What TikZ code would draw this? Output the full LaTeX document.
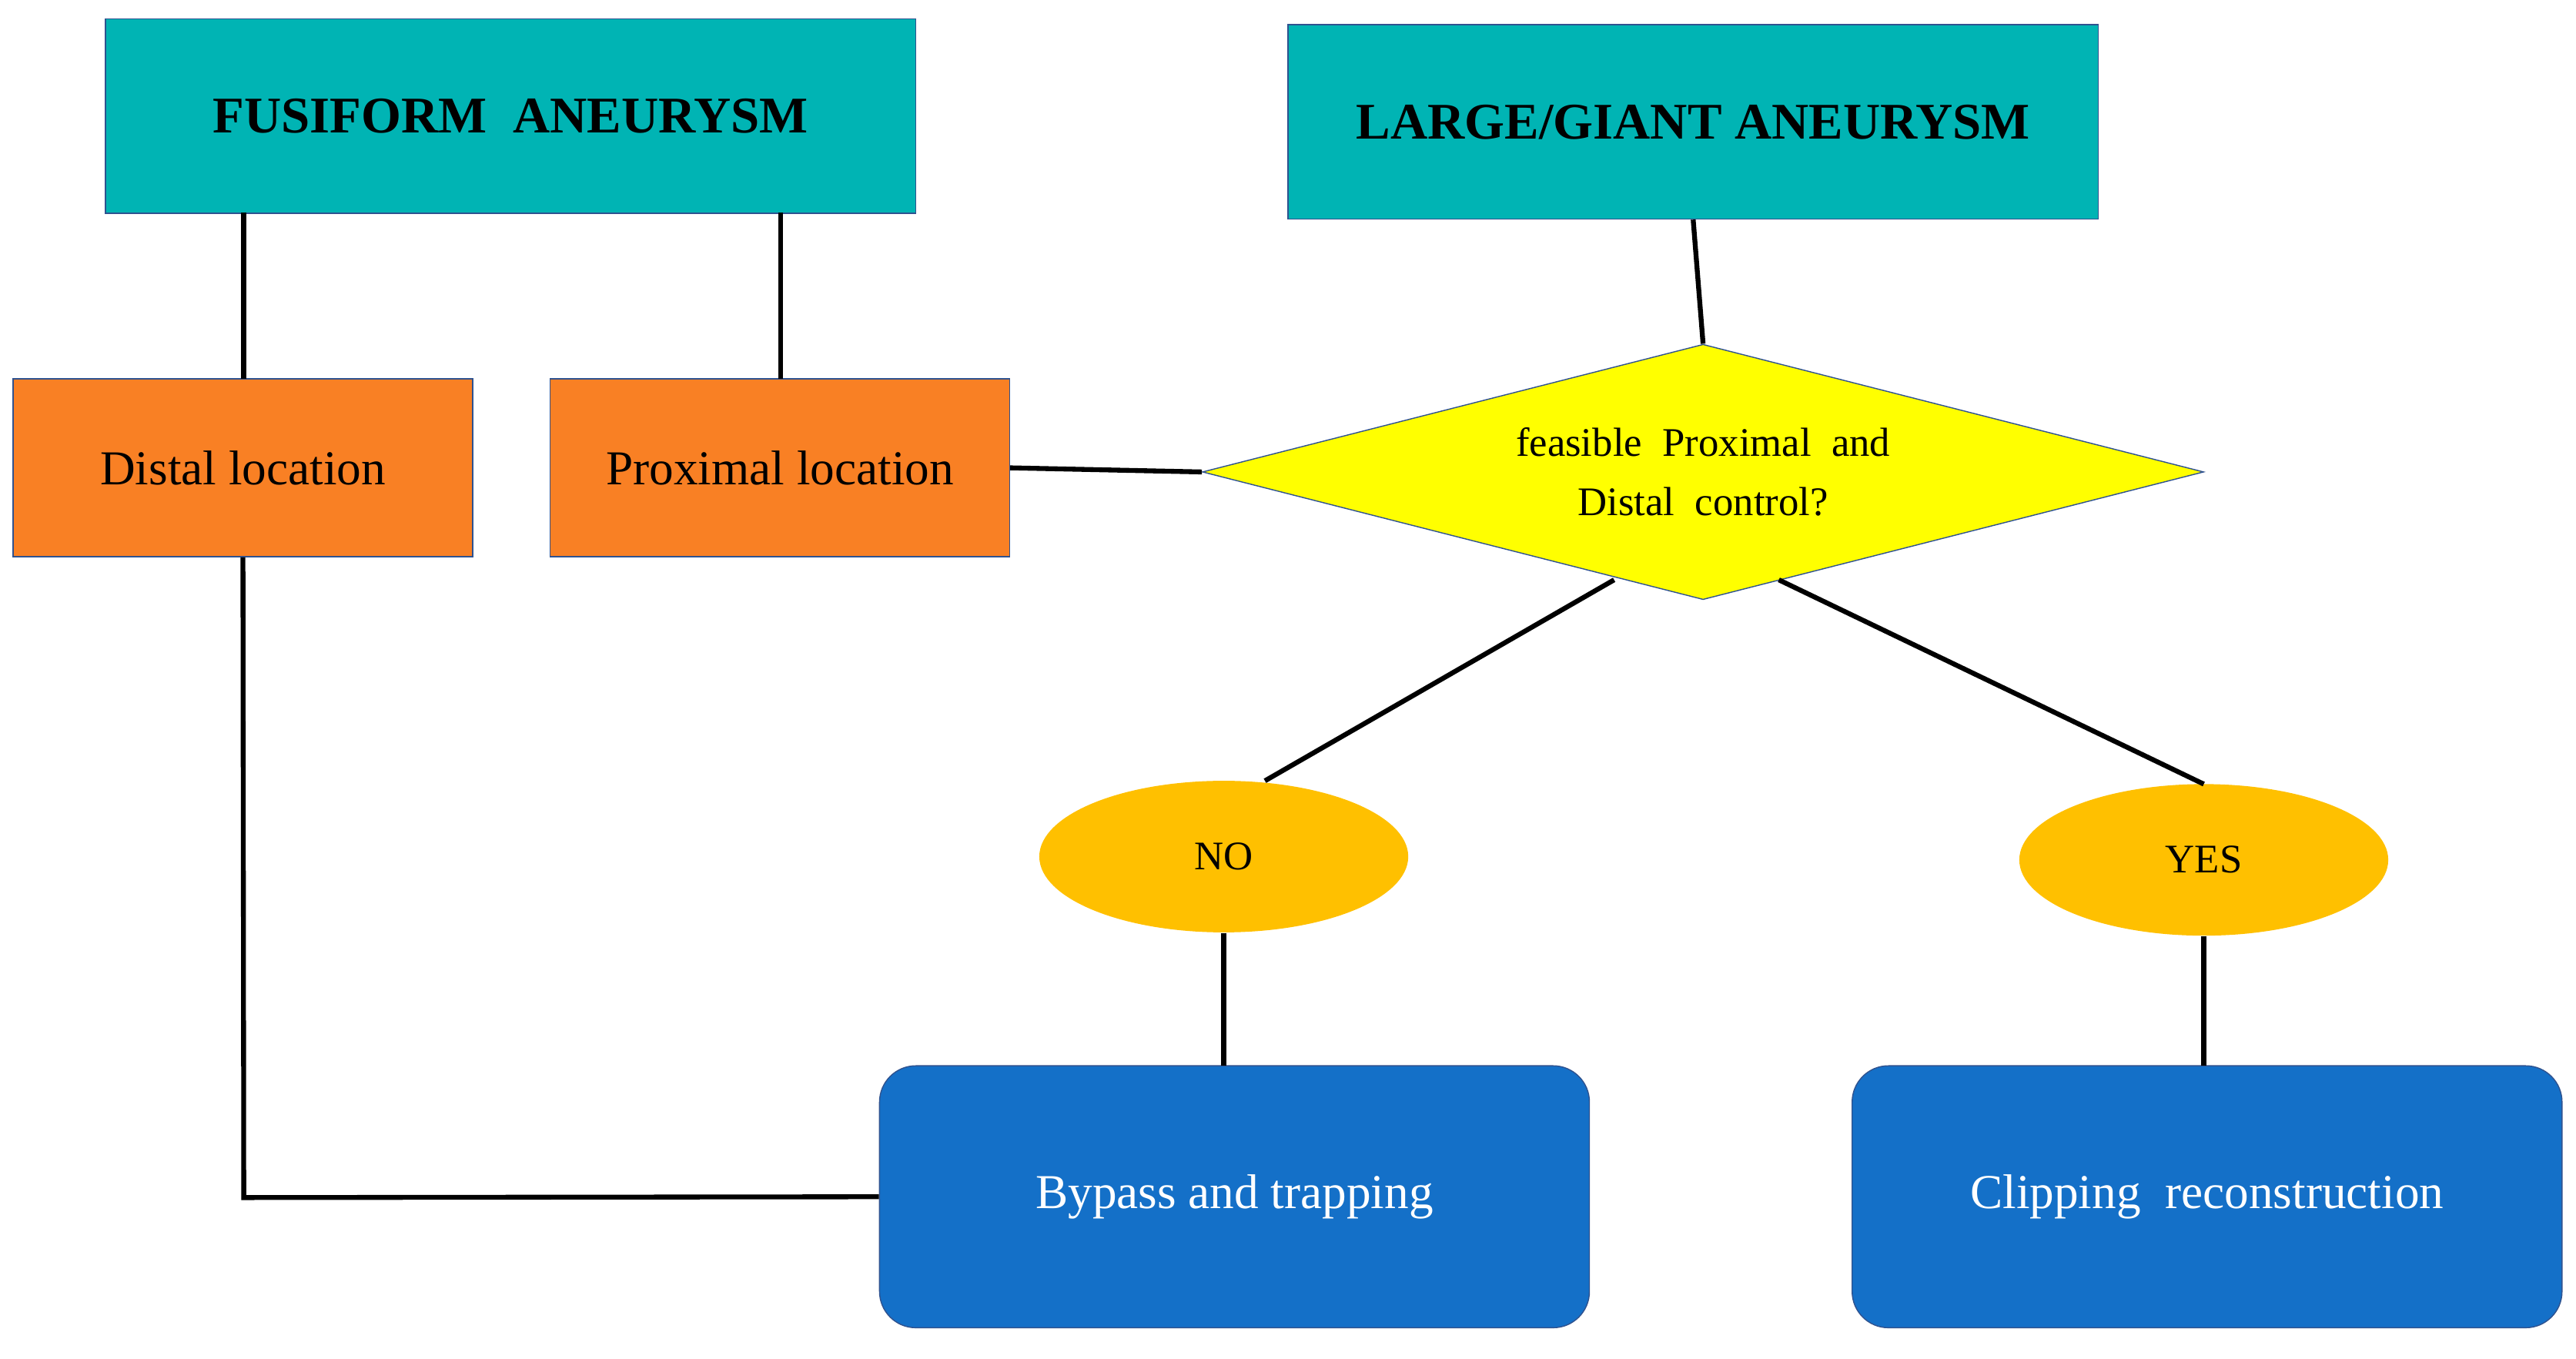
\documentclass[tikz,border=0pt]{standalone}
\usepackage{fontspec}
\setmainfont{Liberation Serif}
\usetikzlibrary{shapes.geometric}
\definecolor{teal1}{HTML}{00B4B4}
\definecolor{orng}{HTML}{F98024}
\definecolor{yel}{HTML}{FFFF00}
\definecolor{gold}{HTML}{FFC000}
\definecolor{blu}{HTML}{1470C8}
\definecolor{edge}{HTML}{2F528F}
\begin{document}
\begin{tikzpicture}[x=0.0214cm,y=-0.0214cm,
  title/.style={draw=edge,fill=teal1,minimum width=492*0.0214cm,minimum height=118*0.0214cm,font=\fontsize{19}{22}\selectfont\bfseries},
  loc/.style={draw=edge,fill=orng,minimum width=279*0.0214cm,minimum height=108*0.0214cm,font=\fontsize{18}{21}\selectfont},
  oval/.style={ellipse,fill=gold,minimum width=224*0.0214cm,minimum height=92*0.0214cm,font=\fontsize{15}{18}\selectfont},
  res/.style={draw=edge,fill=blu,rounded corners=22*0.0214cm,text=white,minimum width=431*0.0214cm,minimum height=159*0.0214cm,font=\fontsize{18}{21}\selectfont},
  ln/.style={line width=1.8pt}]
\useasboundingbox (0,0) rectangle (1564,825);
\node[title] (fus) at (310,70.5) {FUSIFORM\ \ ANEURYSM};
\node[title] (lg) at (1028,74) {LARGE/GIANT ANEURYSM};
\node[loc] (dis) at (147.5,284) {Distal location};
\node[loc] (pro) at (473.5,284) {Proximal location};
\node[diamond,draw=edge,fill=yel,aspect=3.92,inner sep=0pt,minimum width=608*0.0214cm,minimum height=155*0.0214cm,align=center,font=\fontsize{15}{22}\selectfont] (dia) at (1034,286.5) {feasible\ \ Proximal\ \ and\\Distal\ \ control?};
\node[oval] (no) at (743,520) {NO};
\node[oval] (yes) at (1338,522) {YES};
\node[res] (by) at (749.5,726.5) {Bypass and trapping};
\node[res] (cl) at (1340,726.5) {Clipping\ \ reconstruction};
\coordinate (c1) at (148,727);
\draw[ln] (148,129) -- (148,230);
\draw[ln] (474,129) -- (474,230);
\draw[ln] (lg.south) -- (dia.north);
\draw[ln] (pro.east) -- (dia.west);
\draw[ln] (980,352) -- (768,474);
\draw[ln] (1080,352) -- (1338,476);
\draw[ln] (no.south) -- (743,647);
\draw[ln] (yes.south) -- (1338,647);
\draw[ln] (dis.south) -- (c1) -- (by.west);
\end{tikzpicture}
\end{document}
